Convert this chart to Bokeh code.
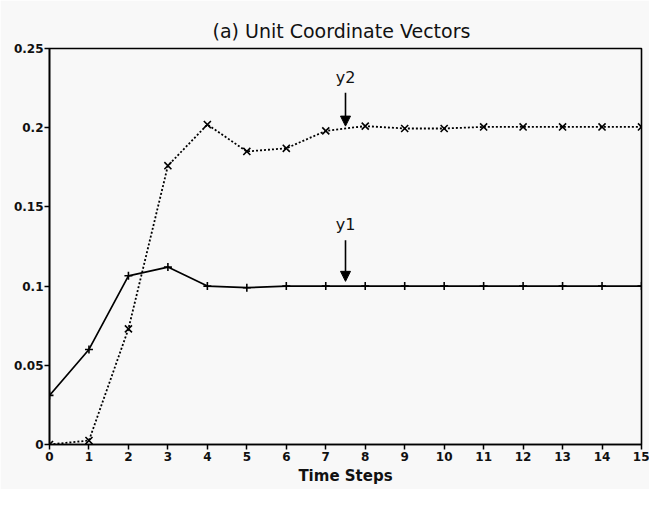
from bokeh.plotting import figure
from bokeh.models import FixedTicker, CustomJSTickFormatter, Arrow, NormalHead, Label
from bokeh.embed import file_html
from bokeh.resources import INLINE

steps = list(range(16))
y1 = [0.031, 0.060, 0.1065, 0.112, 0.100, 0.099, 0.100, 0.100, 0.100, 0.100, 0.100, 0.100, 0.100, 0.100, 0.100, 0.100]
y2 = [0.0, 0.0025, 0.073, 0.176, 0.202, 0.185, 0.187, 0.198, 0.201, 0.1995, 0.1995, 0.2005, 0.2005, 0.2005, 0.2005, 0.2005]
x_ticks = list(range(16))
y_ticks = [0, 0.05, 0.1, 0.15, 0.2, 0.25]

arrow_x = [7.5, 7.5]
arrow_start = [0.129, 0.222]
arrow_end = [0.103, 0.201]
arrow_text = ["y1", "y2"]
arrow_text_y = [0.139, 0.232]

title_text = "(a) Unit Coordinate Vectors"
xlabel_text = "Time Steps"

FONT = "DejaVu Sans"
INK = "#111111"
BG = "#f8f8f8"

p = figure(width=649, height=489, output_backend="svg", toolbar_location=None,
           x_range=(0, 15), y_range=(0, 0.25),
           frame_width=592, frame_height=396,
           min_border_left=49, min_border_right=8, min_border_top=48, min_border_bottom=45,
           background_fill_color=BG, border_fill_color=BG)

p.title.text = title_text
p.title.align = "left"
p.title.offset = 163
p.title.text_font = FONT
p.title.text_font_size = "19px"
p.title.text_font_style = "normal"
p.title.text_color = INK
p.title.standoff = 14

p.xgrid.visible = False
p.ygrid.visible = False
p.outline_line_color = "black"
p.outline_line_width = 1.6
p.outline_line_alpha = 1

for ax in (p.xaxis[0], p.yaxis[0]):
    ax.axis_line_color = "black"
    ax.axis_line_width = 1.6
    ax.major_tick_line_color = "black"
    ax.major_tick_line_width = 1.5
    ax.major_tick_out = 5
    ax.major_tick_in = 0
    ax.minor_tick_line_color = None
    ax.major_label_text_font = FONT
    ax.major_label_text_font_size = "12px"
    ax.major_label_text_font_style = "bold"
    ax.major_label_text_color = INK

p.xaxis.ticker = FixedTicker(ticks=x_ticks)
p.yaxis.ticker = FixedTicker(ticks=y_ticks)
p.yaxis.formatter = CustomJSTickFormatter(code="return Number(tick.toFixed(2)).toString();")
p.xaxis.major_label_standoff = 2
p.yaxis.major_label_standoff = 1

p.xaxis.axis_label = xlabel_text
p.xaxis.axis_label_text_font = FONT
p.xaxis.axis_label_text_font_size = "15px"
p.xaxis.axis_label_text_font_style = "bold"
p.xaxis.axis_label_text_color = INK
p.xaxis.axis_label_standoff = 3

p.line(steps, y1, line_color="black", line_width=1.7)
p.scatter(steps, y1, marker="cross", size=8, line_color="black", line_width=1.6)
p.line(steps, y2, line_color="black", line_width=1.8, line_dash="2 2")
p.scatter(steps, y2, marker="x", size=10, line_color="black", line_width=1.6)

for xa, ys, ye, t, ty in zip(arrow_x, arrow_start, arrow_end, arrow_text, arrow_text_y):
    p.add_layout(Arrow(x_start=xa, y_start=ys, x_end=xa, y_end=ye, line_color="black", line_width=1.6,
                       end=NormalHead(size=10, fill_color="black", line_color="black")))
    p.add_layout(Label(x=xa, y=ty, text=t, text_align="center", text_baseline="middle",
                       text_font=FONT, text_font_size="16px", text_color=INK))

open("out.html", "w").write(file_html(p, INLINE))
